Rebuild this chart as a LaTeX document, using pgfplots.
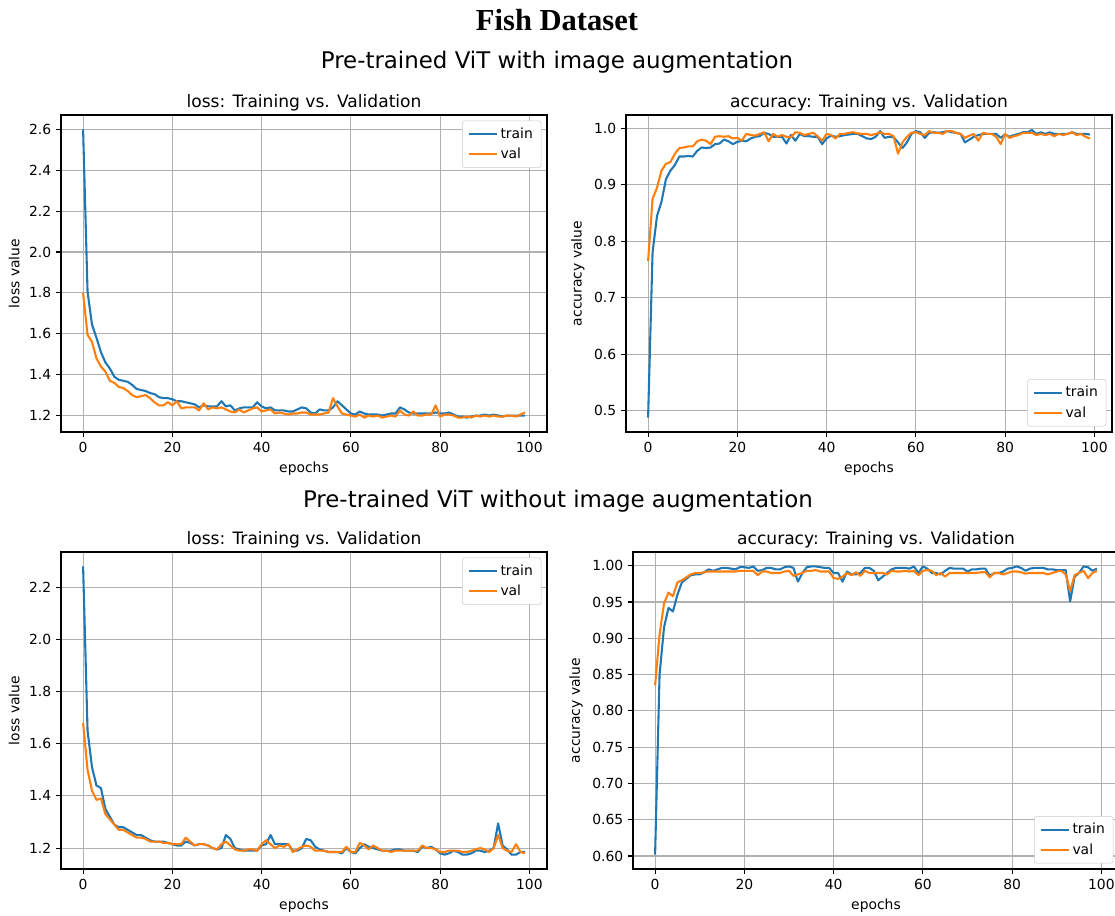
\documentclass[border=0pt]{standalone}
\usepackage{fontspec}
\setmainfont{DejaVu Sans}
\newfontfamily\timesbf{Liberation Serif}
\usepackage{pgfplots}
\usepackage{pgfplotstable}
\pgfplotsset{compat=1.18}
\definecolor{tabblue}{HTML}{1F77B4}
\definecolor{taborange}{HTML}{FF7F0E}
\definecolor{gridgray}{HTML}{B0B0B0}
\definecolor{legedge}{HTML}{CCCCCC}

\pgfplotsset{
 mplstyle/.style={
  scale only axis, width=349.92pt, height=228.24pt,
  xmin=-4.95, xmax=103.95, xtick={0,20,40,60,80,100},
  grid=major, major grid style={gridgray, line width=0.8pt},
  axis line style={line width=0.8pt, black},
  tick align=outside, xtick pos=bottom, ytick pos=left,
  major tick length=3.5pt, tick style={black, line width=0.8pt},
  tick label style={font=\fontsize{10}{12}\selectfont},
  /pgf/number format/assume math mode=true,
  label style={font=\fontsize{10}{12}\selectfont},
  title style={font=\fontsize{12.3}{14}\selectfont, yshift=-7pt},
  xlabel={epochs},
  legend cell align=left,
  legend image code/.code={\draw[##1] (0pt,0pt) -- (20pt,0pt);},
  legend style={draw=legedge, rounded corners=2pt, fill=white, font=\fontsize{10}{12}\selectfont, inner xsep=4pt, inner ysep=3pt, row sep=1.5pt},
  every axis plot/.append style={line width=1.5pt, line join=round},
 },
 lossleg/.style={legend style={at={(1,1)}, anchor=north east, xshift=-4pt, yshift=-4pt}},
 accleg/.style={legend style={at={(1,0)}, anchor=south east, xshift=-4pt, yshift=4pt}},
}

\pgfplotstableread{
e t v
0 2.60 1.80
1 1.805 1.595
2 1.645 1.56
3 1.58 1.48
4 1.51 1.44
5 1.46 1.415
6 1.43 1.37
7 1.39 1.36
8 1.375 1.34
9 1.37 1.335
10 1.365 1.32
11 1.35 1.30
12 1.33 1.29
13 1.325 1.295
14 1.32 1.30
15 1.31 1.285
16 1.305 1.265
17 1.29 1.25
18 1.285 1.25
19 1.285 1.265
20 1.28 1.25
21 1.27 1.27
22 1.27 1.235
23 1.265 1.24
24 1.26 1.24
25 1.255 1.24
26 1.24 1.225
27 1.25 1.26
28 1.245 1.23
29 1.245 1.24
30 1.245 1.235
31 1.27 1.24
32 1.245 1.23
33 1.25 1.22
34 1.225 1.215
35 1.235 1.23
36 1.24 1.215
37 1.24 1.225
38 1.24 1.235
39 1.265 1.24
40 1.245 1.22
41 1.235 1.225
42 1.24 1.23
43 1.225 1.21
44 1.225 1.215
45 1.225 1.21
46 1.22 1.205
47 1.22 1.21
48 1.23 1.21
49 1.24 1.215
50 1.235 1.215
51 1.215 1.205
52 1.21 1.205
53 1.23 1.205
54 1.225 1.21
55 1.225 1.215
56 1.24 1.285
57 1.27 1.245
58 1.25 1.21
59 1.23 1.205
60 1.21 1.20
61 1.205 1.195
62 1.22 1.205
63 1.21 1.19
64 1.205 1.20
65 1.205 1.195
66 1.205 1.20
67 1.20 1.19
68 1.205 1.195
69 1.21 1.20
70 1.21 1.195
71 1.24 1.225
72 1.23 1.205
73 1.215 1.20
74 1.21 1.22
75 1.21 1.20
76 1.21 1.20
77 1.21 1.205
78 1.21 1.205
79 1.215 1.25
80 1.21 1.195
81 1.21 1.205
82 1.215 1.205
83 1.205 1.20
84 1.195 1.19
85 1.195 1.19
86 1.19 1.195
87 1.195 1.19
88 1.20 1.20
89 1.20 1.195
90 1.205 1.20
91 1.20 1.195
92 1.205 1.20
93 1.20 1.195
94 1.195 1.195
95 1.20 1.20
96 1.20 1.20
97 1.20 1.195
98 1.20 1.205
99 1.20 1.215
}\lossA

\pgfplotstableread{
e t v
0 0.488 0.765
1 0.78 0.875
2 0.845 0.895
3 0.87 0.925
4 0.91 0.937
5 0.925 0.94
6 0.935 0.955
7 0.95 0.965
8 0.95 0.966
9 0.951 0.968
10 0.95 0.968
11 0.96 0.977
12 0.966 0.98
13 0.965 0.978
14 0.966 0.972
15 0.972 0.985
16 0.973 0.986
17 0.98 0.985
18 0.977 0.986
19 0.972 0.982
20 0.976 0.983
21 0.978 0.978
22 0.977 0.99
23 0.982 0.988
24 0.985 0.987
25 0.986 0.99
26 0.992 0.993
27 0.99 0.977
28 0.985 0.99
29 0.985 0.985
30 0.985 0.988
31 0.973 0.985
32 0.988 0.984
33 0.978 0.993
34 0.99 0.992
35 0.986 0.988
36 0.986 0.99
37 0.985 0.992
38 0.985 0.986
39 0.972 0.978
40 0.982 0.99
41 0.987 0.988
42 0.985 0.982
43 0.986 0.99
44 0.988 0.99
45 0.989 0.992
46 0.99 0.993
47 0.99 0.991
48 0.986 0.99
49 0.982 0.99
50 0.981 0.988
51 0.985 0.99
52 0.995 0.993
53 0.983 0.99
54 0.985 0.99
55 0.984 0.986
56 0.975 0.955
57 0.965 0.975
58 0.975 0.985
59 0.99 0.992
60 0.995 0.993
61 0.993 0.99
62 0.983 0.988
63 0.992 0.995
64 0.993 0.992
65 0.992 0.992
66 0.993 0.99
67 0.995 0.995
68 0.993 0.995
69 0.992 0.992
70 0.99 0.99
71 0.975 0.983
72 0.98 0.987
73 0.985 0.99
74 0.988 0.978
75 0.99 0.992
76 0.99 0.99
77 0.99 0.99
78 0.99 0.985
79 0.983 0.972
80 0.989 0.99
81 0.985 0.983
82 0.988 0.986
83 0.99 0.988
84 0.993 0.992
85 0.993 0.992
86 0.997 0.992
87 0.99 0.988
88 0.993 0.99
89 0.99 0.988
90 0.993 0.99
91 0.99 0.986
92 0.99 0.99
93 0.99 0.988
94 0.99 0.99
95 0.993 0.993
96 0.99 0.988
97 0.99 0.99
98 0.99 0.985
99 0.989 0.982
}\accA

\pgfplotstableread{
e t v
0 2.28 1.68
1 1.65 1.50
2 1.51 1.42
3 1.44 1.385
4 1.43 1.39
5 1.35 1.33
6 1.32 1.31
7 1.29 1.29
8 1.28 1.27
9 1.28 1.27
10 1.27 1.26
11 1.26 1.25
12 1.25 1.24
13 1.25 1.24
14 1.24 1.235
15 1.23 1.225
16 1.225 1.225
17 1.225 1.225
18 1.225 1.22
19 1.22 1.22
20 1.215 1.215
21 1.21 1.215
22 1.21 1.215
23 1.225 1.24
24 1.22 1.225
25 1.21 1.21
26 1.215 1.215
27 1.215 1.215
28 1.21 1.21
29 1.20 1.20
30 1.195 1.195
31 1.20 1.215
32 1.25 1.225
33 1.235 1.21
34 1.20 1.195
35 1.195 1.19
36 1.19 1.19
37 1.19 1.195
38 1.19 1.195
39 1.19 1.19
40 1.21 1.215
41 1.215 1.23
42 1.25 1.215
43 1.215 1.20
44 1.215 1.21
45 1.215 1.205
46 1.215 1.215
47 1.19 1.185
48 1.19 1.195
49 1.20 1.205
50 1.235 1.21
51 1.23 1.205
52 1.205 1.19
53 1.195 1.19
54 1.19 1.19
55 1.185 1.185
56 1.185 1.185
57 1.185 1.185
58 1.18 1.185
59 1.20 1.205
60 1.185 1.185
61 1.18 1.185
62 1.20 1.22
63 1.215 1.21
64 1.205 1.195
65 1.20 1.21
66 1.195 1.20
67 1.19 1.19
68 1.19 1.19
69 1.19 1.185
70 1.195 1.19
71 1.195 1.19
72 1.19 1.19
73 1.19 1.19
74 1.19 1.19
75 1.185 1.19
76 1.205 1.21
77 1.20 1.20
78 1.205 1.20
79 1.195 1.195
80 1.18 1.185
81 1.175 1.185
82 1.18 1.19
83 1.19 1.19
84 1.185 1.19
85 1.175 1.185
86 1.175 1.185
87 1.18 1.19
88 1.19 1.195
89 1.19 1.20
90 1.185 1.195
91 1.19 1.185
92 1.20 1.20
93 1.295 1.25
94 1.21 1.20
95 1.195 1.19
96 1.175 1.185
97 1.175 1.215
98 1.185 1.185
99 1.185 1.18
}\lossB

\pgfplotstableread{
e t v
0 0.602 0.835
1 0.85 0.905
2 0.915 0.948
3 0.942 0.963
4 0.937 0.958
5 0.96 0.977
6 0.977 0.98
7 0.982 0.984
8 0.987 0.988
9 0.988 0.99
10 0.988 0.99
11 0.991 0.991
12 0.995 0.992
13 0.993 0.992
14 0.995 0.992
15 0.997 0.992
16 0.997 0.992
17 0.996 0.992
18 0.995 0.992
19 0.998 0.993
20 0.998 0.993
21 0.997 0.993
22 0.999 0.993
23 0.993 0.987
24 0.994 0.992
25 0.997 0.992
26 0.997 0.99
27 0.995 0.99
28 0.995 0.99
29 0.998 0.992
30 0.999 0.993
31 0.997 0.986
32 0.978 0.988
33 0.99 0.99
34 0.998 0.993
35 0.999 0.993
36 0.999 0.994
37 0.998 0.992
38 0.997 0.992
39 0.997 0.992
40 0.99 0.983
41 0.99 0.982
42 0.978 0.985
43 0.992 0.99
44 0.988 0.987
45 0.988 0.991
46 0.99 0.986
47 0.997 0.993
48 0.997 0.99
49 0.993 0.99
50 0.98 0.99
51 0.985 0.99
52 0.99 0.988
53 0.995 0.993
54 0.997 0.992
55 0.997 0.992
56 0.997 0.993
57 0.996 0.992
58 0.999 0.993
59 0.99 0.987
60 0.999 0.993
61 0.996 0.994
62 0.99 0.993
63 0.99 0.987
64 0.988 0.99
65 0.993 0.985
66 0.997 0.99
67 0.996 0.99
68 0.996 0.99
69 0.996 0.99
70 0.992 0.99
71 0.995 0.99
72 0.995 0.99
73 0.996 0.991
74 0.996 0.991
75 0.986 0.984
76 0.99 0.99
77 0.99 0.99
78 0.992 0.988
79 0.996 0.99
80 0.997 0.992
81 0.999 0.992
82 0.997 0.991
83 0.993 0.989
84 0.996 0.99
85 0.997 0.99
86 0.997 0.99
87 0.997 0.99
88 0.995 0.988
89 0.995 0.99
90 0.994 0.992
91 0.994 0.993
92 0.994 0.988
93 0.951 0.965
94 0.985 0.987
95 0.99 0.99
96 0.999 0.993
97 0.998 0.983
98 0.993 0.99
99 0.996 0.993
}\accB

\begin{document}
\begin{tikzpicture}
\path[use as bounding box] (0pt,0pt) rectangle (802.8pt,-658.8pt);

\node[font=\timesbf\bfseries\fontsize{22}{26}\selectfont] at (401.04pt,-14.4pt) {Fish Dataset};
\node[font=\fontsize{16.5}{19}\selectfont] at (401.04pt,-44.64pt) {Pre-trained ViT with image augmentation};
\node[font=\fontsize{16.5}{19}\selectfont] at (401.76pt,-360.72pt) {Pre-trained ViT without image augmentation};

\begin{axis}[mplstyle, lossleg, at={(43.92pt,-82.8pt)}, anchor=north west,
  ymin=1.1195, ymax=2.6705, ytick={1.2,1.4,1.6,1.8,2.0,2.2,2.4,2.6},
  yticklabel style={/pgf/number format/.cd, fixed, fixed zerofill, precision=1},
  title={loss: Training vs. Validation}, ylabel={loss value}]
\addplot[tabblue] table[x=e, y=t] {\lossA};
\addplot[taborange] table[x=e, y=v] {\lossA};
\legend{train, val}
\end{axis}

\begin{axis}[mplstyle, accleg, at={(450.72pt,-82.8pt)}, anchor=north west,
  ymin=0.4625, ymax=1.0235, ytick={0.5,0.6,0.7,0.8,0.9,1.0},
  yticklabel style={/pgf/number format/.cd, fixed, fixed zerofill, precision=1},
  title={accuracy: Training vs. Validation}, ylabel={accuracy value}]
\addplot[tabblue] table[x=e, y=t] {\accA};
\addplot[taborange] table[x=e, y=v] {\accA};
\legend{train, val}
\end{axis}

\begin{axis}[mplstyle, lossleg, at={(43.92pt,-397.44pt)}, anchor=north west,
  ymin=1.1198, ymax=2.3352, ytick={1.2,1.4,1.6,1.8,2.0,2.2},
  yticklabel style={/pgf/number format/.cd, fixed, fixed zerofill, precision=1},
  title={loss: Training vs. Validation}, ylabel={loss value}]
\addplot[tabblue] table[x=e, y=t] {\lossB};
\addplot[taborange] table[x=e, y=v] {\lossB};
\legend{train, val}
\end{axis}

\begin{axis}[mplstyle, accleg, at={(455.76pt,-397.44pt)}, anchor=north west,
  ymin=0.5821, ymax=1.0189, ytick={0.60,0.65,0.70,0.75,0.80,0.85,0.90,0.95,1.00},
  yticklabel style={/pgf/number format/.cd, fixed, fixed zerofill, precision=2},
  title={accuracy: Training vs. Validation}, ylabel={accuracy value}]
\addplot[tabblue] table[x=e, y=t] {\accB};
\addplot[taborange] table[x=e, y=v] {\accB};
\legend{train, val}
\end{axis}
\end{tikzpicture}
\end{document}
